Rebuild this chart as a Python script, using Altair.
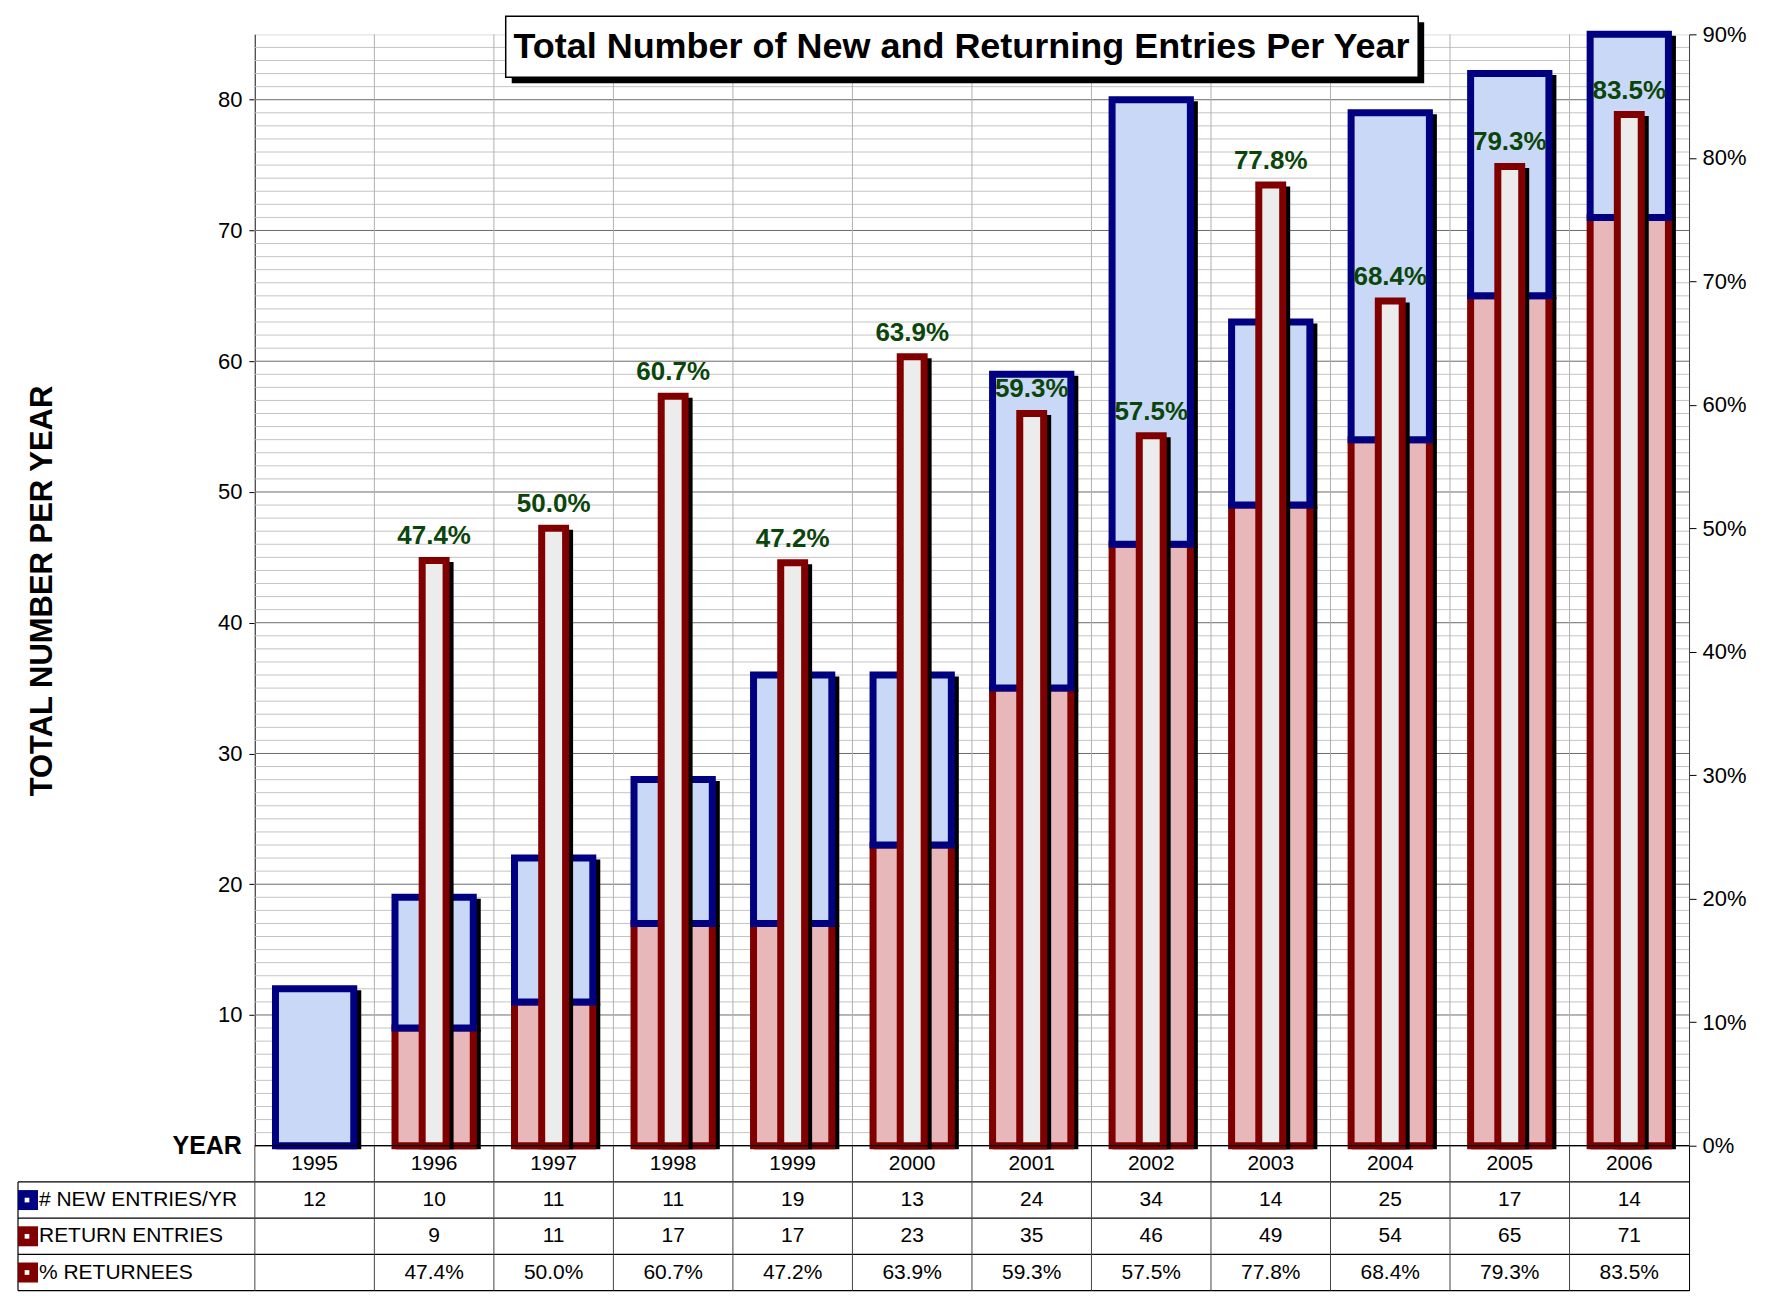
import altair as alt
import pandas as pd

# ---------------- data ----------------
years = ["1995", "1996", "1997", "1998", "1999", "2000", "2001", "2002", "2003", "2004", "2005", "2006"]
new_entries = [12, 10, 11, 11, 19, 13, 24, 34, 14, 25, 17, 14]
return_entries = [None, 9, 11, 17, 17, 23, 35, 46, 49, 54, 65, 71]
pct_returnees = [None, 0.474, 0.500, 0.607, 0.472, 0.639, 0.593, 0.575, 0.778, 0.684, 0.793, 0.835]
row_labels = ["# NEW ENTRIES/YR", "RETURN ENTRIES", "% RETURNEES"]
row_colors = ["#000080", "#800000", "#800000"]
title_text = "Total Number of New and Returning Entries Per Year"
y_title = "TOTAL NUMBER PER YEAR"

FONT = "Liberation Sans"
W, H = 1435, 1112      # main plot area
LW = 237               # label column width
TH = 145               # table height
NOVIEW = alt.ViewBackground(stroke="transparent", strokeWidth=0)

df = pd.DataFrame({"year": years, "new": new_entries, "ret": return_entries, "pct": pct_returnees})
df["zero"] = 0
df["ret0"] = df["ret"].fillna(0)
df["total"] = df["ret0"] + df["new"]
df["lab"] = [("" if p is None or pd.isna(p) else f"{p*100:.1f}%") for p in df["pct"]]
ret_df = df[df["ret"].notna()]
pct_df = df[df["pct"].notna()]

# ---------------- main chart ----------------
xenc = alt.X("year:O", scale=alt.Scale(domain=years, paddingInner=0, paddingOuter=0), axis=None)
scaleL = alt.Scale(domain=[0, 85], nice=False, zero=True)
axisL = alt.Axis(orient="left", values=[10, 20, 30, 40, 50, 60, 70, 80], title=None, grid=False,
                 domainColor="#000000", domainWidth=1, tickColor="#000000", tickSize=6,
                 labelFontSize=22, labelColor="#000000", labelFont=FONT, labelPadding=7)
scaleR = alt.Scale(domain=[0, 0.9], nice=False, zero=True)
axisR = alt.Axis(orient="right", values=[i / 10 for i in range(10)], format=".0%", title=None, grid=False,
                 domainColor="#404040", domainWidth=1, tickColor="#000000", tickSize=7,
                 labelFontSize=22, labelColor="#000000", labelFont=FONT, labelPadding=6)


def yL(f):
    return alt.Y(f, type="quantitative", scale=scaleL, axis=axisL)


def yR(f):
    return alt.Y(f, type="quantitative", scale=scaleR, axis=axisR)


grid_minor = pd.DataFrame({"g": [v for v in range(1, 85) if v % 10 != 0]})
grid_major = pd.DataFrame({"g": [v for v in range(0, 85, 10)]})

l_minor = alt.Chart(grid_minor).mark_rule(color="#c4c4c4", strokeWidth=1).encode(y=yL("g"))
l_major = alt.Chart(grid_major).mark_rule(color="#6a6a6a", strokeWidth=1).encode(y=yL("g"))
l_vgrid = alt.Chart(df).mark_rule(color="#b0b0b0", strokeWidth=1).encode(
    x=alt.X("year:O", bandPosition=0, scale=alt.Scale(domain=years, paddingInner=0, paddingOuter=0), axis=None))

BW = alt.RelativeBandSize(0.655)
SW = 7
sh_blue = alt.Chart(df).mark_bar(width=BW, fill="#000000", stroke="#000000", strokeWidth=SW,
                                 xOffset=4, x2Offset=4, yOffset=5).encode(
    x=xenc, y=yL("total"), y2=alt.Y2("ret0"))
sh_pink = alt.Chart(ret_df).mark_bar(width=BW, fill="#000000", stroke="#000000", strokeWidth=SW,
                                     xOffset=4, x2Offset=4, yOffset=5).encode(
    x=xenc, y=yL("ret"), y2=alt.Y2("zero"))
pink = alt.Chart(ret_df).mark_bar(width=BW, fill="#e7b7ba", stroke="#800000", strokeWidth=SW).encode(
    x=xenc, y=yL("ret"), y2=alt.Y2("zero"))
blue = alt.Chart(df).mark_bar(width=BW, fill="#c9d8f6", stroke="#000080", strokeWidth=SW).encode(
    x=xenc, y=yL("total"), y2=alt.Y2("ret0"))

left = alt.layer(l_minor, l_major, l_vgrid, sh_blue, sh_pink, pink, blue)

PW = alt.RelativeBandSize(0.2)
pct_sh = alt.Chart(pct_df).mark_bar(width=PW, fill="#000000", stroke="#000000", strokeWidth=SW,
                                    xOffset=4, x2Offset=4, yOffset=5).encode(
    x=xenc, y=yR("pct"), y2=alt.Y2("zero"))
pct_bar = alt.Chart(pct_df).mark_bar(width=PW, fill="#ececec", stroke="#800000", strokeWidth=SW).encode(
    x=xenc, y=yR("pct"), y2=alt.Y2("zero"))
pct_txt = alt.Chart(pct_df).mark_text(dy=-16, baseline="alphabetic", fontSize=26, fontWeight="bold",
                                      color="#0b450b", font=FONT).encode(
    x=xenc, y=yR("pct"), text="lab:N")

one = pd.DataFrame({"t": [title_text]})
box_sh = alt.Chart(one).mark_rect(fill="#000000").encode(
    x=alt.value(257), x2=alt.value(1170), y=alt.value(-12), y2=alt.value(49))
box = alt.Chart(one).mark_rect(fill="#ffffff", stroke="#000000", strokeWidth=1.5).encode(
    x=alt.value(251), x2=alt.value(1164), y=alt.value(-18), y2=alt.value(43))
ttl = alt.Chart(one).mark_text(fontSize=36, fontWeight="bold", font=FONT, color="#000000",
                               baseline="middle", align="center").encode(
    x=alt.value(707), y=alt.value(13), text="t:N")

right = alt.layer(pct_sh, pct_bar, pct_txt, box_sh, box, ttl)

main = alt.layer(left, right).resolve_scale(y="independent").properties(width=W, height=H)

# ---------------- top-left: axis title ----------------
spacer_df = pd.DataFrame({"t": [y_title], "y": ["YEAR"]})
ytitle = alt.Chart(spacer_df).mark_text(angle=270, fontSize=31, fontWeight="bold", font=FONT,
                                        color="#000000", baseline="middle", align="center").encode(
    x=alt.value(25), y=alt.value(557), text="t:N")
yeart = alt.Chart(spacer_df).mark_text(fontSize=25, fontWeight="bold", font=FONT, color="#000000",
                                       baseline="middle", align="right").encode(
    x=alt.value(224), y=alt.value(H), text="y:N")
spacer = alt.layer(ytitle, yeart).properties(width=LW, height=H, view=NOVIEW)

# ---------------- bottom-right: data table ----------------
rows = []
for i, y in enumerate(years):
    rows.append({"year": y, "r": 0.5, "txt": y})
    rows.append({"year": y, "r": 1.5, "txt": str(new_entries[i])})
    rows.append({"year": y, "r": 2.5, "txt": "" if return_entries[i] is None else str(return_entries[i])})
    rows.append({"year": y, "r": 3.5, "txt": "" if pct_returnees[i] is None else f"{pct_returnees[i]*100:.1f}%"})
tdf = pd.DataFrame(rows)

tys = alt.Scale(domain=[0, 4], reverse=True, nice=False, zero=False)
tAxis = alt.Axis(orient="right", labels=False, ticks=False, title=None, grid=False,
                 domainColor="#000000", domainWidth=1)

hdf = pd.DataFrame({"h": [0, 1, 2, 3, 4]})
t_h = alt.Chart(hdf).mark_rule(color="#000000", strokeWidth=1.2).encode(
    y=alt.Y("h:Q", scale=tys, axis=tAxis))
t_v = alt.Chart(df).mark_rule(color="#444444", strokeWidth=1).encode(
    x=alt.X("year:O", bandPosition=0, scale=alt.Scale(domain=years, paddingInner=0, paddingOuter=0), axis=None))
t_txt = alt.Chart(tdf).mark_text(fontSize=21, font=FONT, color="#000000", baseline="middle").encode(
    x=xenc, y=alt.Y("r:Q", scale=tys, axis=tAxis), text="txt:N")
table = alt.layer(t_h, t_v, t_txt).properties(width=W, height=TH, view=NOVIEW)

# ---------------- bottom-left: row labels ----------------
ldf = pd.DataFrame({"r": [1.5, 2.5, 3.5], "lab": row_labels, "c": row_colors})
lys = alt.Scale(domain=[0, 4], reverse=True, nice=False, zero=False)
lh = alt.Chart(pd.DataFrame({"h": [1, 2, 3, 4]})).mark_rule(color="#000000", strokeWidth=1.2).encode(
    y=alt.Y("h:Q", scale=lys, axis=None))
lv = alt.Chart(pd.DataFrame({"a": [1], "b": [4]})).mark_rule(color="#000000", strokeWidth=1.2).encode(
    x=alt.value(0), y=alt.Y("a:Q", scale=lys, axis=None), y2="b:Q")
lsq = alt.Chart(ldf).mark_square(size=400, opacity=1, filled=True).encode(
    x=alt.value(10), y=alt.Y("r:Q", scale=lys, axis=None), color=alt.Color("c:N", scale=None, legend=None))
lsq2 = alt.Chart(ldf).mark_square(size=22, opacity=1, filled=True, color="#ffffff").encode(
    x=alt.value(9), y=alt.Y("r:Q", scale=lys, axis=None))
ltxt = alt.Chart(ldf).mark_text(fontSize=21, font=FONT, color="#000000", align="left", baseline="middle").encode(
    x=alt.value(21), y=alt.Y("r:Q", scale=lys, axis=None), text="lab:N")
labels = alt.layer(lh, lv, lsq, lsq2, ltxt).properties(width=LW, height=TH, view=NOVIEW)

chart = alt.concat(spacer, main, labels, table, columns=2, spacing=0, bounds="flush").properties(
    padding={"left": 9, "top": 6, "right": 10, "bottom": 4},
    background="#ffffff",
).configure_view(stroke=None, strokeWidth=0).configure(font=FONT)

chart.save("out.html", embed_options={"renderer": "svg", "actions": False})
